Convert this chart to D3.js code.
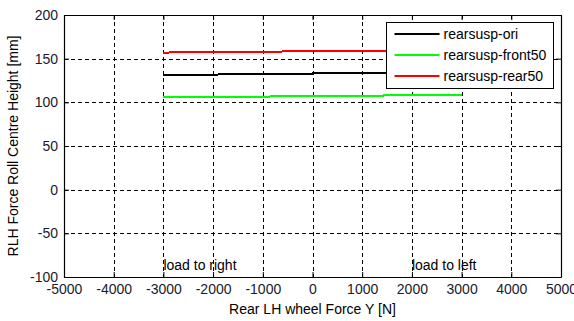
<!DOCTYPE html>
<html>
<head>
<meta charset="utf-8">
<script src="https://cdn.jsdelivr.net/npm/d3@7"></script>
<style>
  body { margin: 0; background: #fff; }
  text { font-family: "Liberation Sans", Arial, sans-serif; }
</style>
</head>
<body>
<div id="chart-area"></div>
<script>
// values
var forceY = [-3000, -2000, -1000, 0, 1000, 2000, 3000];
var ori = [131.0, 131.8, 132.4, 133.0, 133.6, 134.2, 134.8];
var front50 = [105.6, 106.1, 106.6, 107.1, 107.6, 108.1, 108.6];
var rear50 = [157.0, 157.5, 158.0, 158.5, 159.0, 159.5, 160.0];
var seriesNames = ["rearsusp-ori", "rearsusp-front50", "rearsusp-rear50"];
var seriesColors = ["#000000", "#00ff00", "#ff0000"];
var xTicks = [-5000, -4000, -3000, -2000, -1000, 0, 1000, 2000, 3000, 4000, 5000];
var yTicks = [-100, -50, 0, 50, 100, 150, 200];

var margin = { left: 64, right: 13, top: 15, bottom: 44 };
var width = 574 - margin.left - margin.right;
var height = 321 - margin.top - margin.bottom;
var fontSize = "14px";

var svg = d3.select("#chart-area")
    .append("svg")
    .attr("width", 574)
    .attr("height", 321);

var g = svg.append("g")
    .attr("transform", "translate(" + margin.left + "," + margin.top + ")");

var x = d3.scaleLinear().domain([-5000, 5000]).range([0, width]);
var y = d3.scaleLinear().domain([-100, 200]).range([height, 0]);

g.append("rect")
    .attr("width", width)
    .attr("height", height)
    .attr("fill", "#fff");

// dashed grid
g.selectAll(".vgrid")
    .data(xTicks.slice(1, -1))
    .enter()
    .append("line")
    .attr("x1", d => Math.round(x(d)) + 0.5)
    .attr("x2", d => Math.round(x(d)) + 0.5)
    .attr("y1", 0)
    .attr("y2", height)
    .attr("stroke", "#000")
    .attr("stroke-dasharray", "4,3");

g.selectAll(".hgrid")
    .data(yTicks.slice(1, -1))
    .enter()
    .append("line")
    .attr("y1", d => Math.round(y(d)) + 0.5)
    .attr("y2", d => Math.round(y(d)) + 0.5)
    .attr("x1", 0)
    .attr("x2", width)
    .attr("stroke", "#000")
    .attr("stroke-dasharray", "4,3");

// axes (ticks inside, like matlab)
var fmt = d => String(d);
var xAxisCall = d3.axisBottom(x).tickValues(xTicks).tickFormat(fmt)
    .tickSizeInner(-5).tickSizeOuter(0).tickPadding(9);
var yAxisCall = d3.axisLeft(y).tickValues(yTicks).tickFormat(fmt)
    .tickSizeInner(-5).tickSizeOuter(0).tickPadding(6);

var xAxis = g.append("g")
    .attr("transform", "translate(0," + height + ")")
    .call(xAxisCall);
var yAxis = g.append("g").call(yAxisCall);

g.append("g")
    .call(d3.axisTop(x).tickValues(xTicks).tickSizeInner(-5).tickSizeOuter(0).tickFormat(""));
g.append("g")
    .attr("transform", "translate(" + width + ",0)")
    .call(d3.axisRight(y).tickValues(yTicks).tickSizeInner(-5).tickSizeOuter(0).tickFormat(""));

svg.selectAll(".domain").attr("stroke", "#000").attr("stroke-width", 1.2);
svg.selectAll(".tick line").attr("stroke", "#000");
svg.selectAll(".tick text")
    .attr("font-size", fontSize)
    .attr("fill", "#1a1a2e");
xAxis.selectAll(".tick text").attr("dy", "0.55em");

// series
var series = [ori, front50, rear50];
var line = d3.line()
    .x((d, i) => x(forceY[i]))
    .y(d => y(d));

g.selectAll(".series")
    .data(series)
    .enter()
    .append("path")
    .attr("d", d => line(d))
    .attr("fill", "none")
    .attr("stroke", (d, i) => seriesColors[i])
    .attr("stroke-width", 2)
    .attr("shape-rendering", "crispEdges");

// annotations
g.append("text")
    .attr("x", x(-3000))
    .attr("y", y(-100) - 7)
    .attr("font-size", fontSize)
    .text("load to right");
g.append("text")
    .attr("x", x(2000))
    .attr("y", y(-100) - 7)
    .attr("font-size", fontSize)
    .text("load to left");

// legend
var legend = g.append("g")
    .attr("transform", "translate(" + (386.5 - margin.left) + "," + (22.5 - margin.top) + ")");
legend.append("rect")
    .attr("width", 167)
    .attr("height", 66)
    .attr("fill", "#fff")
    .attr("stroke", "#000");
seriesNames.forEach(function(name, i) {
    var ly = 11.5 + i * 21;
    legend.append("line")
        .attr("x1", 8)
        .attr("x2", 53)
        .attr("y1", ly)
        .attr("y2", ly)
        .attr("stroke", seriesColors[i])
        .attr("stroke-width", 2);
    legend.append("text")
        .attr("x", 57)
        .attr("y", ly)
        .attr("dy", "0.35em")
        .attr("font-size", fontSize)
        .text(name);
});

// axis labels
svg.append("text")
    .attr("x", margin.left + width / 2)
    .attr("y", 314)
    .attr("text-anchor", "middle")
    .attr("font-size", fontSize)
    .text("Rear LH wheel Force Y [N]");

svg.append("text")
    .attr("transform", "translate(18," + (margin.top + height / 2) + ") rotate(-90)")
    .attr("text-anchor", "middle")
    .attr("font-size", fontSize)
    .text("RLH Force Roll Centre Height [mm]");
</script>
</body>
</html>
